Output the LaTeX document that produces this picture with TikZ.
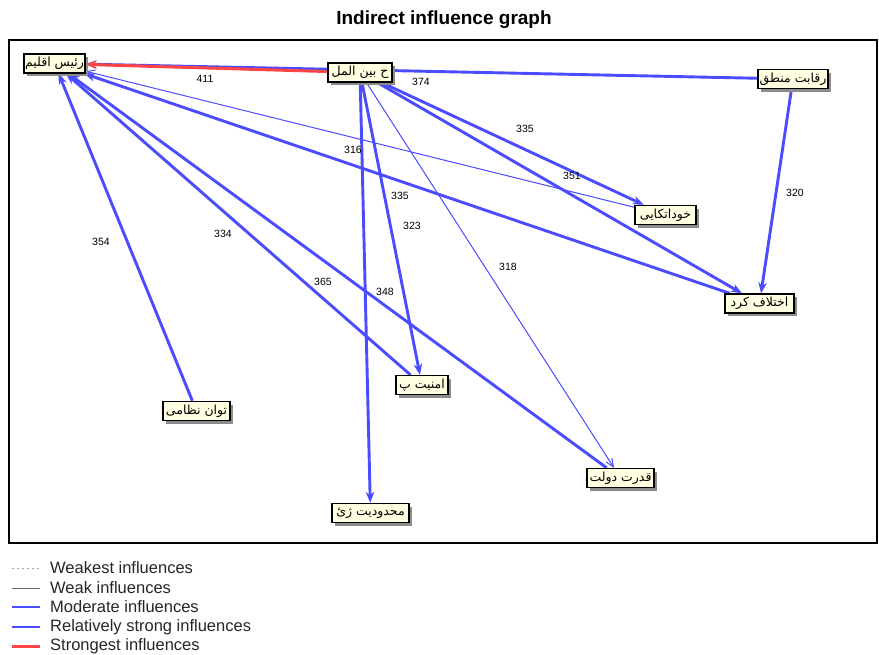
\documentclass[tikz,border=0pt]{standalone}
\usepackage{fontspec}
\setmainfont{Liberation Sans}
\newfontfamily\arabicfont[Script=Arabic]{DejaVu Sans}
\TeXXeTstate=1
\usetikzlibrary{arrows.meta,shadows,backgrounds}
\definecolor{eblue}{RGB}{75,75,255}
\definecolor{ered}{RGB}{255,70,70}
\definecolor{nfill}{RGB}{255,255,225}
\begin{document}
\begin{tikzpicture}[x=1pt,y=-1pt,
  nd/.style={draw=black,line width=1.3pt,fill=nfill,inner sep=1pt,minimum height=19pt,
    font=\arabicfont\fontsize{12.5}{14}\selectfont,
    drop shadow={shadow xshift=3pt,shadow yshift=-3pt,fill=black!45,opacity=1}},
  strongedge/.style={draw=eblue,line width=2.9pt,-{Stealth[length=11pt,width=8.5pt]}},
  moderedge/.style={draw=eblue,line width=1pt,-{Straight Barb[length=8pt,width=7pt]}},
  strongestedge/.style={draw=ered,line width=3pt,-{Stealth[length=11pt,width=8.5pt]}},
  lbl/.style={font=\fontsize{10.5}{12}\selectfont,inner sep=0pt},
  leg/.style={anchor=west,font=\fontsize{16.5}{18}\selectfont,text=black!85,inner sep=0pt},
]
\useasboundingbox (0,0) rectangle (879,654);
\node[font=\bfseries\fontsize{19}{22}\selectfont] (title) at (444,20) {Indirect influence graph};
\draw[line width=1.2pt] (9,40) rectangle (877,543);

\node[nd,minimum width=61pt] (A) at (54.5,63.5) {\beginR رئیس اقلیم\endR};
\node[nd,minimum width=64pt] (B) at (360,72.5) {\beginR ح بین المل\endR};
\node[nd,minimum width=70pt] (C) at (793,79) {\beginR رقابت منطق\endR};
\node[nd,minimum width=61pt] (D) at (665.5,215) {\beginR خوداتکایی\endR};
\node[nd,minimum width=69pt] (E) at (759.5,303.5) {\beginR اختلاف کرد\endR};
\node[nd,minimum width=52pt] (F) at (422,385) {\beginR امنیت پ\endR};
\node[nd,minimum width=67pt] (G) at (196.5,411) {\beginR توان نظامی\endR};
\node[nd,minimum width=67pt] (H) at (620.5,478) {\beginR قدرت دولت\endR};
\node[nd,minimum width=77pt] (I) at (370.5,513) {\beginR محدودیت ژئ\endR};

\begin{pgfonlayer}{background}
\fill[white] (0,0) rectangle (879,654);
\draw[strongedge] (C) -- (A);
\draw[strongedge] (C) -- (E);
\draw[strongedge] (B) -- (D);
\draw[strongedge] (B) -- (E);
\draw[strongedge] (E) -- (A);
\draw[strongedge] (B) -- (F);
\draw[strongedge] (G) -- (A);
\draw[strongedge] (F) -- (A);
\draw[strongedge] (H) -- (A);
\draw[strongedge] (B) -- (I);
\draw[moderedge] (D) -- (A);
\draw[moderedge] (B) -- (H);
\draw[strongestedge] (B) -- (A);
\end{pgfonlayer}

\node[lbl] (l411) at (205,79) {411};
\node[lbl] (l374) at (421,82) {374};
\node[lbl] (l335a) at (525,129) {335};
\node[lbl] (l351) at (572,176) {351};
\node[lbl] (l316) at (353,150) {316};
\node[lbl] (l320) at (795,193) {320};
\node[lbl] (l335b) at (400,196) {335};
\node[lbl] (l323) at (412,226) {323};
\node[lbl] (l354) at (101,242) {354};
\node[lbl] (l334) at (223,234) {334};
\node[lbl] (l318) at (508,267) {318};
\node[lbl] (l365) at (323,282) {365};
\node[lbl] (l348) at (385,292) {348};

\coordinate (k1a) at (12,568); \coordinate (k1b) at (40,568);
\coordinate (k2a) at (12,588); \coordinate (k2b) at (40,588);
\coordinate (k3a) at (12,607); \coordinate (k3b) at (40,607);
\coordinate (k4a) at (12,627); \coordinate (k4b) at (40,627);
\coordinate (k5a) at (12,646); \coordinate (k5b) at (40,646);
\draw[black!35,line width=0.8pt,dash pattern=on 2pt off 3pt] (k1a) -- (k1b);
\draw[black!60,line width=1pt] (k2a) -- (k2b);
\draw[eblue,line width=1.2pt] (k3a) -- (k3b);
\draw[eblue,line width=2.9pt] (k4a) -- (k4b);
\draw[ered,line width=3pt] (k5a) -- (k5b);
\node[leg] (t1) at (50,568) {Weakest influences};
\node[leg] (t2) at (50,588) {Weak influences};
\node[leg] (t3) at (50,607) {Moderate influences};
\node[leg] (t4) at (50,627) {Relatively strong influences};
\node[leg] (t5) at (50,646) {Strongest influences};
\end{tikzpicture}
\end{document}
